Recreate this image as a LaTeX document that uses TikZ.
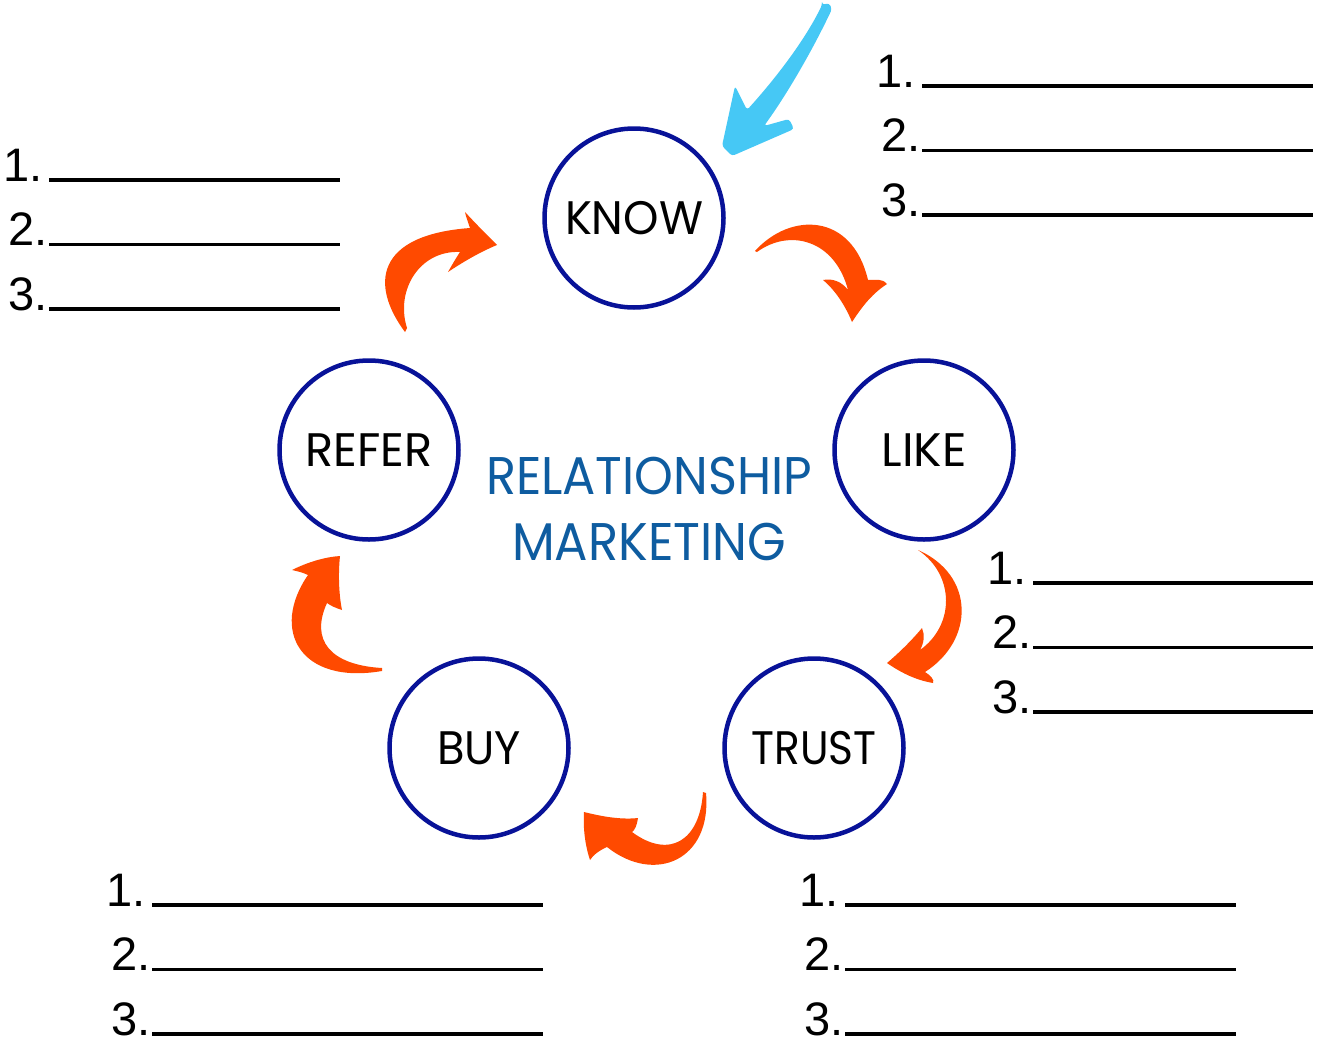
\documentclass[tikz,border=0pt]{standalone}
\usepackage{fontspec}
\usepackage{graphicx}
\setmainfont{Liberation Sans}
\newfontfamily\geo{Poppins}
\definecolor{navy}{RGB}{8,18,152}
\definecolor{txtblue}{RGB}{14,92,160}
\definecolor{orng}{RGB}{255,74,0}
\definecolor{skyb}{RGB}{70,200,245}
\newcommand\fitw[2]{\resizebox{#1}{\height}{#2}}
\tikzset{
  circ/.style={circle, draw=navy, line width=4.5pt, minimum size=179pt, inner sep=0pt,
    font=\geo\fontsize{47}{47}\selectfont, text=black},
  ctr/.style={font=\geo\fontsize{53}{53}\selectfont, text=txtblue, inner sep=0pt},
  num/.style={font=\fontsize{47}{47}\selectfont, inner sep=0pt, anchor=base east},
  blank/.style={line width=3.8pt, black},
  orarrow/.style={fill=orng, draw=none},
}
% #1 prefix, #2 line start x, #3 line end x, #4 first y
\newcommand\blanklist[4]{%
  \foreach \k/\g in {1/6,2/1,3/1}{%
    \pgfmathsetmacro\yy{#4+(\k-1)*64.5}
    \node[num] (#1\k) at (#2-\g,\yy+1) {\k.};
    \coordinate (#1\k s) at (#2,\yy);
    \coordinate (#1\k e) at (#3,\yy);
    \draw[blank] (#1\k s) -- (#1\k e);
  }}
\begin{document}
\begin{tikzpicture}[x=1pt,y=-1pt]
\useasboundingbox (0,0) rectangle (1323,1047);

% circles
\node[circ] (know)  at (634,218) {\fitw{138pt}{KNOW}};
\node[circ] (like)  at (924,450) {\fitw{85pt}{LIKE}};
\node[circ] (trust) at (814,748) {\fitw{125pt}{TRUST}};
\node[circ] (buy)   at (479,748) {\fitw{84pt}{BUY}};
\node[circ] (refer) at (369,450) {\fitw{127pt}{REFER}};

% centre text
\node[ctr] (rel) at (649,476) {\fitw{326pt}{RELATIONSHIP}};
\node[ctr] (mkt) at (649,542) {\fitw{274pt}{MARKETING}};

% blank lists
\blanklist{tr}{922}{1313}{86}
\blanklist{lf}{49}{340}{180}
\blanklist{rm}{1033}{1313}{583}
\blanklist{bl}{152}{543}{905}
\blanklist{br}{845}{1236}{905}

% blue arrow
\fill[skyb, rounded corners=3pt] (822,5) -- (829,3) -- (832,9)
  .. controls (815,45) and (790,90) .. (764,126) -- (789,119) -- (794,129)
  -- (732,156) -- (722,146) -- (735,86) -- (747,110)
  .. controls (776,78) and (805,40) .. (822,5) -- cycle;

% orange arrows
% KNOW -> LIKE
\fill[orarrow] (755,251) .. controls (790,212) and (852,212) .. (868,280)
  .. controls (875,280) and (882,278) .. (887,284)
  .. controls (870,295) and (860,310) .. (852,322)
  .. controls (845,305) and (835,290) .. (823,280)
  .. controls (833,278) and (842,282) .. (848,290)
  .. controls (835,240) and (790,228) .. (757,252) -- cycle;
% LIKE -> TRUST
\fill[orarrow] (918,550) .. controls (975,575) and (975,640) .. (925,672)
  .. controls (930,675) and (935,680) .. (933,683)
  .. controls (915,680) and (900,672) .. (887,663)
  .. controls (900,652) and (912,640) .. (922,628)
  .. controls (925,635) and (924,643) .. (920,650)
  .. controls (955,625) and (955,575) .. (918,550) -- cycle;
% TRUST -> BUY
\fill[orarrow] (706,793) .. controls (712,860) and (655,885) .. (607,847)
  .. controls (600,850) and (593,855) .. (590,860)
  .. controls (585,845) and (583,828) .. (584,812)
  .. controls (600,816) and (620,820) .. (638,818)
  .. controls (637,825) and (635,830) .. (632,832)
  .. controls (670,860) and (700,840) .. (703,792) -- cycle;
% BUY -> REFER
\fill[orarrow] (382,671) .. controls (300,685) and (270,630) .. (308,575)
  .. controls (302,572) and (296,571) .. (292,570)
  .. controls (308,562) and (325,557) .. (340,556)
  .. controls (338,575) and (339,595) .. (342,610)
  .. controls (336,608) and (331,606) .. (327,603)
  .. controls (310,640) and (330,665) .. (382,668) -- cycle;
% REFER -> KNOW
\fill[orarrow] (405,332) .. controls (370,285) and (375,235) .. (470,228)
  .. controls (468,222) and (466,217) .. (465,212)
  .. controls (477,225) and (488,236) .. (497,245)
  .. controls (480,252) and (463,262) .. (448,272)
  .. controls (452,265) and (456,258) .. (460,252)
  .. controls (420,250) and (395,290) .. (407,328) -- cycle;
\end{tikzpicture}
\end{document}
